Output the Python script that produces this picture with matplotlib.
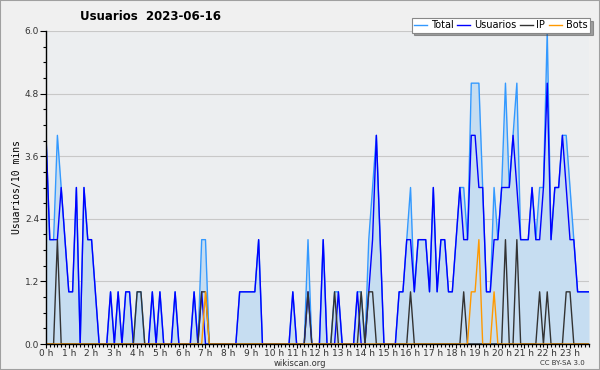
import numpy as np
import matplotlib
matplotlib.use("Agg")
import matplotlib.pyplot as plt
from matplotlib.patches import Rectangle

# users per 10 minutes, 144 slots (00:00 .. 23:50)
usuarios = [
    4, 2, 2, 2, 3, 2, 1, 1, 3, 0, 3, 2,
    2, 1, 0, 0, 0, 1, 0, 1, 0, 1, 1, 0,
    0, 0, 0, 0, 1, 0, 1, 0, 0, 0, 1, 0,
    0, 0, 0, 1, 0, 1, 0, 0, 0, 0, 0, 0,
    0, 0, 0, 1, 1, 1, 1, 1, 2, 0, 0, 0,
    0, 0, 0, 0, 0, 1, 0, 0, 0, 1, 0, 0,
    0, 2, 0, 0, 0, 1, 0, 0, 0, 0, 1, 0,
    0, 1, 2, 4, 2, 0, 0, 0, 0, 1, 1, 2,
    2, 1, 2, 2, 2, 1, 3, 1, 2, 2, 1, 1,
    2, 3, 2, 2, 4, 4, 3, 3, 1, 1, 2, 2,
    3, 3, 3, 4, 3, 2, 2, 2, 3, 2, 2, 3,
    5, 2, 3, 3, 4, 3, 2, 2, 1, 1, 1, 1,
]
ip = [
    0, 0, 0, 2, 0, 0, 0, 0, 0, 0, 0, 0,
    0, 0, 0, 0, 0, 0, 0, 0, 0, 0, 0, 0,
    1, 1, 0, 0, 0, 0, 0, 0, 0, 0, 0, 0,
    0, 0, 0, 0, 0, 1, 1, 0, 0, 0, 0, 0,
    0, 0, 0, 0, 0, 0, 0, 0, 0, 0, 0, 0,
    0, 0, 0, 0, 0, 0, 0, 0, 0, 1, 0, 0,
    0, 0, 0, 0, 1, 0, 0, 0, 0, 0, 0, 1,
    0, 1, 1, 0, 0, 0, 0, 0, 0, 0, 0, 0,
    1, 0, 0, 0, 0, 0, 0, 0, 0, 0, 0, 0,
    0, 0, 1, 0, 0, 0, 0, 0, 0, 0, 0, 0,
    0, 2, 0, 0, 2, 0, 0, 0, 0, 0, 1, 0,
    1, 0, 0, 0, 0, 1, 1, 0, 0, 0, 0, 0,
]
bots = [
    0, 0, 0, 0, 0, 0, 0, 0, 0, 0, 0, 0,
    0, 0, 0, 0, 0, 0, 0, 0, 0, 0, 0, 0,
    0, 0, 0, 0, 0, 0, 0, 0, 0, 0, 0, 0,
    0, 0, 0, 0, 0, 0, 1, 0, 0, 0, 0, 0,
    0, 0, 0, 0, 0, 0, 0, 0, 0, 0, 0, 0,
    0, 0, 0, 0, 0, 0, 0, 0, 0, 0, 0, 0,
    0, 0, 0, 0, 0, 0, 0, 0, 0, 0, 0, 0,
    0, 0, 0, 0, 0, 0, 0, 0, 0, 0, 0, 0,
    0, 0, 0, 0, 0, 0, 0, 0, 0, 0, 0, 0,
    0, 0, 0, 0, 1, 1, 2, 0, 0, 0, 1, 0,
    0, 0, 0, 0, 0, 0, 0, 0, 0, 0, 0, 0,
    0, 0, 0, 0, 0, 0, 0, 0, 0, 0, 0, 0,
]
hour_labels = ["%d h" % h for h in range(24)]

u = np.array(usuarios)
p = np.array(ip)
b = np.array(bots)
total = u + p + b
x = np.arange(len(u))

fig = plt.figure(figsize=(6, 3.7), dpi=100, facecolor="#f0f0f0")
fig.patches.append(Rectangle((0, 0), 1, 1, transform=fig.transFigure,
                             fill=False, edgecolor="#a0a0a0", lw=1.5))
ax = fig.add_axes([46 / 600, 26 / 370, 543 / 600, 313 / 370])
ax.set_facecolor("#eceef0")

ax.fill_between(x, 0, total, color="#c6ddf1", lw=0)
ax.plot(x, total, color="#3399ff", lw=1.0, label="Total")
ax.plot(x, u, color="#0000ff", lw=1.0, label="Usuarios")
ax.plot(x, p, color="#333333", lw=1.0, label="IP")
ax.plot(x, b, color="#ff9900", lw=1.0, label="Bots")

ax.set_xlim(0, 143)
ax.set_ylim(0, 6)
yt = np.arange(0, 6.01, 1.2)
ax.set_yticks(yt)
ax.set_yticklabels(["%.1f" % v for v in yt], fontsize=6.5, color="#333333")
ax.set_yticks(np.arange(0, 6.01, 0.3), minor=True)
ax.set_xticks(np.arange(0, 144, 6))
ax.set_xticklabels(hour_labels, fontsize=6.5, color="#333333")
ax.set_xticks(np.arange(0, 144, 1), minor=True)
ax.tick_params(axis="y", which="major", length=4, width=0.8, pad=1)
ax.tick_params(axis="x", which="major", length=3, width=0.8, pad=0.5)
ax.tick_params(axis="both", which="minor", length=2, width=0.8)
ax.grid(axis="y", which="major", color="#c8c8c8", lw=0.8)
ax.set_axisbelow(True)
for s in ("top", "right"):
    ax.spines[s].set_visible(False)
ax.spines["left"].set_linewidth(1.0)
ax.spines["bottom"].set_linewidth(1.0)

ax.set_ylabel("Usuarios/10 mins", family="DejaVu Sans Mono", fontsize=7, labelpad=2)

fig.text(0.25, 0.955, "Usuarios  2023-06-16", fontsize=8.5, fontweight="bold",
         ha="center", va="center")
leg = ax.legend(loc="upper right", bbox_to_anchor=(0.983, 0.952),
                bbox_transform=fig.transFigure, ncol=4, fontsize=7,
                frameon=True, fancybox=False, shadow=True, framealpha=1,
                edgecolor="#888888", handlelength=1.3, handletextpad=0.4,
                columnspacing=0.4, borderpad=0.25, borderaxespad=0)
leg.get_frame().set_linewidth(0.8)

fig.text(0.5, 0.018, "wikiscan.org", fontsize=6, ha="center", va="center", color="#333333")
fig.text(0.975, 0.018, "CC BY-SA 3.0", fontsize=5, ha="right", va="center", color="#333333")

fig.savefig("out.png", dpi=100, facecolor=fig.get_facecolor())
